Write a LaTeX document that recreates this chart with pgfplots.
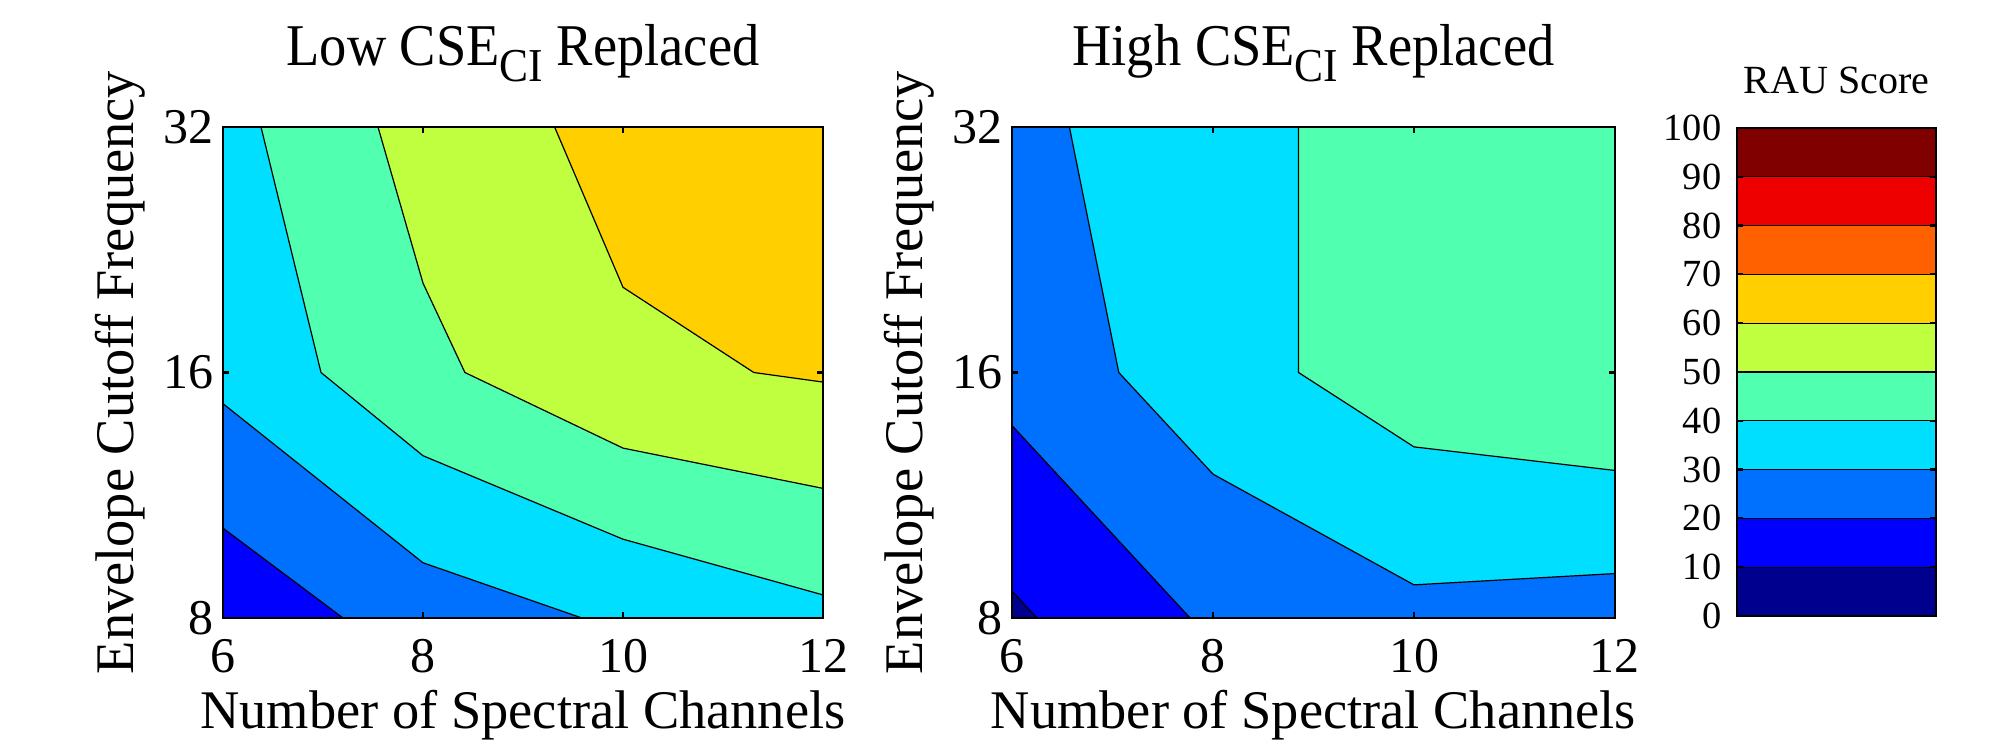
\documentclass[border=0pt]{standalone}
\usepackage{pgfplots}
\pgfplotsset{compat=1.18}
\usepackage{fontspec}
\setmainfont{Liberation Serif}
\newfontfamily\titlefont[FakeStretch=0.92]{Liberation Serif}
\definecolor{c0}{RGB}{0,0,143}
\definecolor{c1}{RGB}{0,0,255}
\definecolor{c2}{RGB}{0,112,255}
\definecolor{c3}{RGB}{0,223,255}
\definecolor{c4}{RGB}{80,255,175}
\definecolor{c5}{RGB}{191,255,64}
\definecolor{c6}{RGB}{255,207,0}
\definecolor{c7}{RGB}{255,96,0}
\definecolor{c8}{RGB}{239,0,0}
\definecolor{c9}{RGB}{128,0,0}
\newcommand{\ttl}[1]{{\titlefont\fontsize{14.8}{15}\selectfont #1 CSE\raisebox{-4pt}{\fontsize{11.8}{12}\selectfont CI} Replaced}}
\begin{document}
\begin{tikzpicture}
\useasboundingbox (0pt,0pt) rectangle (500pt,187pt);
\pgfplotsset{
  cont/.style={
    scale only axis, height=122.75pt,
    xmin=6, xmax=12, ymin=3, ymax=5,
    xtick={6,8,10,12}, ytick={3,4,5}, yticklabels={8,16,32},
    tick align=inside, major tick length=1.6pt,
    axis on top,
    axis line style={line width=0.55pt},
    every tick/.style={black, line width=0.55pt},
    /pgf/number format/assume math mode=true,
    tick label style={font=\fontsize{12.5}{13}\selectfont},
    xticklabel style={anchor=base, yshift=-13.5pt},
    yticklabel style={anchor=east, inner sep=0pt, xshift=-2.25pt},
    xlabel={Number of Spectral Channels},
    ylabel={Envelope Cutoff Frequency},
    label style={font=\fontsize{13.6}{14}\selectfont},
    xlabel style={at={(axis description cs:0.5,-0.226)}, anchor=base},
    ylabel style={at={(axis description cs:-0.1486,0.5)}, anchor=base},
    title style={at={(axis description cs:0.5,1.0754)}, anchor=base},
  },
  cline/.style={black, line width=0.3pt, mark=none},
  reg/.style={draw=none, mark=none, fill=#1},
}
% ---------------- Left: Low CSE_CI replaced ----------------
\begin{axis}[cont, width=150pt, at={(55.75pt,32.5pt)}, anchor=south west,
  title={\ttl{Low}}]
  \addplot[reg=c1] coordinates {(6,3) (12,3) (12,5) (6,5) (6,3)};
  \addplot[reg=c2] coordinates {(6,3.366) (7.2,3) (12,3) (12,5) (6,5) (6,3.366)};
  \addplot[reg=c3] coordinates {(6,3.873) (8,3.225) (9.589,3) (12,3) (12,5) (6,5) (6,3.873)};
  \addplot[reg=c4] coordinates {(6.380,5) (6.980,4) (8,3.661) (10,3.321) (12,3.094) (12,5) (6.380,5)};
  \addplot[reg=c5] coordinates {(7.550,5) (8,4.364) (8.419,4) (10,3.692) (12,3.528) (12,5) (7.550,5)};
  \addplot[reg=c6] coordinates {(9.316,5) (10,4.347) (11.308,4) (12,3.961) (12,5) (9.316,5)};
  \addplot[cline] coordinates {(6,3.366) (7.2,3)};
  \addplot[cline] coordinates {(6,3.873) (8,3.225) (9.589,3)};
  \addplot[cline] coordinates {(6.380,5) (6.980,4) (8,3.661) (10,3.321) (12,3.094)};
  \addplot[cline] coordinates {(7.550,5) (8,4.364) (8.419,4) (10,3.692) (12,3.528)};
  \addplot[cline] coordinates {(9.316,5) (10,4.347) (11.308,4) (12,3.961)};
\end{axis}
% ---------------- Right: High CSE_CI replaced ----------------
\begin{axis}[cont, width=150.75pt, at={(253pt,32.5pt)}, anchor=south west,
  title={\ttl{High}}]
  \addplot[reg=c0] coordinates {(6,3) (12,3) (12,5) (6,5) (6,3)};
  \addplot[reg=c1] coordinates {(6,3.110) (6.248,3) (12,3) (12,5) (6,5) (6,3.110)};
  \addplot[reg=c2] coordinates {(6,3.784) (7.772,3) (12,3) (12,5) (6,5) (6,3.784)};
  \addplot[reg=c3] coordinates {(6.571,5) (7.0625,4) (8,3.586) (10,3.135) (12,3.181) (12,5) (6.571,5)};
  \addplot[reg=c4] coordinates {(8.851,5) (8.851,4) (10,3.697) (12,3.601) (12,5) (8.851,5)};
  \addplot[cline] coordinates {(6,3.110) (6.248,3)};
  \addplot[cline] coordinates {(6,3.784) (7.772,3)};
  \addplot[cline] coordinates {(6.571,5) (7.0625,4) (8,3.586) (10,3.135) (12,3.181)};
  \addplot[cline] coordinates {(8.851,5) (8.851,4) (10,3.697) (12,3.601)};
\end{axis}
% ---------------- Colour bar ----------------
\begin{axis}[scale only axis, width=49.75pt, height=122pt,
  at={(434.25pt,33pt)}, anchor=south west,
  xmin=0, xmax=1, ymin=0, ymax=100,
  xtick=\empty, ytick={0,10,...,100},
  tick align=inside, major tick length=1.6pt,
  axis on top,
  axis line style={line width=0.55pt},
  every tick/.style={black, line width=0.55pt},
  /pgf/number format/assume math mode=true,
  tick label style={font=\fontsize{9.6}{10}\selectfont},
  yticklabel style={anchor=east, inner sep=0pt, xshift=-3.75pt},
  title={RAU Score},
  title style={font=\fontsize{10}{11}\selectfont, at={(axis description cs:0.5,1.0205)}, anchor=base}]
  \addplot[fill=c0, draw=black, line width=0.3pt, mark=none] coordinates {(0,0) (1,0) (1,10) (0,10) (0,0)};
  \addplot[fill=c1, draw=black, line width=0.3pt, mark=none] coordinates {(0,10) (1,10) (1,20) (0,20) (0,10)};
  \addplot[fill=c2, draw=black, line width=0.3pt, mark=none] coordinates {(0,20) (1,20) (1,30) (0,30) (0,20)};
  \addplot[fill=c3, draw=black, line width=0.3pt, mark=none] coordinates {(0,30) (1,30) (1,40) (0,40) (0,30)};
  \addplot[fill=c4, draw=black, line width=0.3pt, mark=none] coordinates {(0,40) (1,40) (1,50) (0,50) (0,40)};
  \addplot[fill=c5, draw=black, line width=0.3pt, mark=none] coordinates {(0,50) (1,50) (1,60) (0,60) (0,50)};
  \addplot[fill=c6, draw=black, line width=0.3pt, mark=none] coordinates {(0,60) (1,60) (1,70) (0,70) (0,60)};
  \addplot[fill=c7, draw=black, line width=0.3pt, mark=none] coordinates {(0,70) (1,70) (1,80) (0,80) (0,70)};
  \addplot[fill=c8, draw=black, line width=0.3pt, mark=none] coordinates {(0,80) (1,80) (1,90) (0,90) (0,80)};
  \addplot[fill=c9, draw=black, line width=0.3pt, mark=none] coordinates {(0,90) (1,90) (1,100) (0,100) (0,90)};
\end{axis}
\end{tikzpicture}
\end{document}
